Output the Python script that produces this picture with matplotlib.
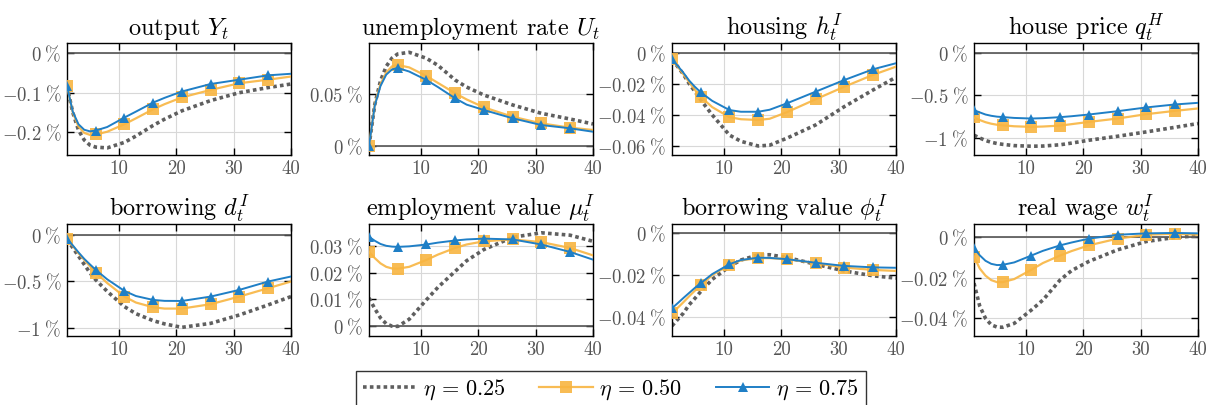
"""
Impulse responses for three values of eta, 2x4 panel grid with a shared
legend underneath (pgfplots-like look).
"""

import matplotlib
matplotlib.use("Agg")
import matplotlib.pyplot as plt

plt.rcParams["font.family"] = "serif"
plt.rcParams["font.serif"] = ["cmr10", "DejaVu Serif"]
plt.rcParams["mathtext.fontset"] = "cm"
plt.rcParams["axes.formatter.use_mathtext"] = True
plt.rcParams["axes.unicode_minus"] = False

t = [1, 2, 3, 4, 5, 6, 8, 11, 13, 16, 18, 21, 26, 31, 36, 40]
marker_idx = [0, 5, 7, 9, 11, 12, 13, 14]  # t = 1, 6, 11, ..., 36

eta_labels = [r"$\eta\,=\,0.25$", r"$\eta\,=\,0.50$", r"$\eta\,=\,0.75$"]

output_025 = [-0.083, -0.15, -0.195, -0.22, -0.233, -0.238, -0.240, -0.226, -0.210, -0.183, -0.167, -0.146, -0.120, -0.100, -0.087, -0.078]
output_050 = [-0.083, -0.15, -0.186, -0.202, -0.207, -0.206, -0.199, -0.180, -0.165, -0.142, -0.129, -0.112, -0.093, -0.076, -0.067, -0.059]
output_075 = [-0.083, -0.148, -0.180, -0.194, -0.198, -0.196, -0.187, -0.163, -0.148, -0.125, -0.113, -0.097, -0.078, -0.067, -0.056, -0.052]

unemp_025 = [0, 0.040, 0.063, 0.077, 0.085, 0.089, 0.0906, 0.0848, 0.078, 0.0638, 0.057, 0.0493, 0.0397, 0.0316, 0.0261, 0.0213]
unemp_050 = [0, 0.040, 0.060, 0.071, 0.077, 0.0783, 0.076, 0.0677, 0.061, 0.051, 0.045, 0.0374, 0.0283, 0.0219, 0.0177, 0.0155]
unemp_075 = [0, 0.039, 0.058, 0.069, 0.074, 0.0755, 0.072, 0.0638, 0.057, 0.0461, 0.040, 0.0348, 0.0268, 0.0203, 0.0171, 0.0138]

housing_025 = [-0.0043, -0.009, -0.014, -0.020, -0.025, -0.0304, -0.040, -0.053, -0.057, -0.0600, -0.0595, -0.055, -0.0465, -0.0347, -0.0240, -0.0158]
housing_050 = [-0.0043, -0.009, -0.014, -0.019, -0.024, -0.0284, -0.035, -0.0415, -0.0428, -0.0433, -0.0425, -0.0383, -0.0300, -0.0219, -0.0143, -0.0090]
housing_075 = [-0.0043, -0.0085, -0.013, -0.018, -0.022, -0.0255, -0.031, -0.0369, -0.0380, -0.0380, -0.0367, -0.0326, -0.0251, -0.0176, -0.0107, -0.0068]

hprice_025 = [-0.968, -1.00, -1.03, -1.05, -1.065, -1.075, -1.09, -1.097, -1.095, -1.08, -1.06, -1.027, -0.98, -0.929, -0.875, -0.831]
hprice_050 = [-0.760, -0.79, -0.815, -0.833, -0.845, -0.852, -0.863, -0.870, -0.866, -0.855, -0.838, -0.812, -0.772, -0.721, -0.682, -0.654]
hprice_075 = [-0.674, -0.70, -0.725, -0.740, -0.750, -0.755, -0.765, -0.772, -0.768, -0.756, -0.745, -0.725, -0.686, -0.642, -0.607, -0.588]

borrow_025 = [-0.05, -0.14, -0.23, -0.32, -0.41, -0.486, -0.61, -0.774, -0.85, -0.925, -0.96, -0.997, -0.954, -0.864, -0.756, -0.666]
borrow_050 = [-0.043, -0.12, -0.20, -0.27, -0.34, -0.407, -0.52, -0.666, -0.73, -0.781, -0.795, -0.795, -0.748, -0.666, -0.576, -0.504]
borrow_075 = [-0.043, -0.115, -0.19, -0.26, -0.32, -0.378, -0.48, -0.605, -0.66, -0.702, -0.712, -0.713, -0.666, -0.594, -0.504, -0.45]

empval_025 = [0.0105, 0.0065, 0.003, 0.0008, -0.0001, -0.0002, 0.0025, 0.0098, 0.0145, 0.0205, 0.0245, 0.0287, 0.0333, 0.0350, 0.0341, 0.0318]
empval_050 = [0.0278, 0.0255, 0.0235, 0.0222, 0.0216, 0.0215, 0.0222, 0.0248, 0.0268, 0.0293, 0.0306, 0.0318, 0.0325, 0.0315, 0.0293, 0.0265]
empval_075 = [0.0335, 0.0320, 0.0308, 0.0301, 0.0298, 0.0297, 0.0299, 0.0306, 0.0313, 0.0321, 0.0325, 0.0328, 0.0325, 0.0306, 0.0278, 0.0249]

borval_025 = [-0.0441, -0.041, -0.038, -0.034, -0.031, -0.0278, -0.022, -0.0159, -0.0128, -0.0104, -0.0103, -0.0116, -0.0148, -0.0180, -0.0203, -0.0214]
borval_050 = [-0.0381, -0.0355, -0.0328, -0.030, -0.0273, -0.0249, -0.020, -0.0151, -0.0130, -0.0119, -0.0119, -0.0124, -0.0143, -0.0164, -0.0175, -0.0180]
borval_075 = [-0.0357, -0.0333, -0.0308, -0.0284, -0.026, -0.0238, -0.0195, -0.0148, -0.0128, -0.0117, -0.0118, -0.0124, -0.0141, -0.0156, -0.0163, -0.0165]

wage_025 = [-0.0227, -0.034, -0.040, -0.0432, -0.0443, -0.0444, -0.0425, -0.0359, -0.031, -0.0211, -0.0165, -0.0120, -0.0063, -0.0022, -0.0002, 0.0006]
wage_050 = [-0.0096, -0.0155, -0.019, -0.0212, -0.0222, -0.0222, -0.0207, -0.0161, -0.0128, -0.0091, -0.0069, -0.0041, -0.0008, 0.0011, 0.0016, 0.0011]
wage_075 = [-0.0054, -0.009, -0.0117, -0.0132, -0.0138, -0.0137, -0.0125, -0.0091, -0.0068, -0.0041, -0.0027, -0.0008, 0.0011, 0.0018, 0.0020, 0.0018]

titles = [
    r"output $Y_t$", r"unemployment rate $U_t$", r"housing $h_t^I$", r"house price $q_t^H$",
    r"borrowing $d_t^I$", r"employment value $\mu_t^I$", r"borrowing value $\phi_t^I$", r"real wage $w_t^I$",
]
series = [
    (output_025, output_050, output_075),
    (unemp_025, unemp_050, unemp_075),
    (housing_025, housing_050, housing_075),
    (hprice_025, hprice_050, hprice_075),
    (borrow_025, borrow_050, borrow_075),
    (empval_025, empval_050, empval_075),
    (borval_025, borval_050, borval_075),
    (wage_025, wage_050, wage_075),
]
yticks = [
    [0, -0.1, -0.2], [0, 0.05], [0, -0.02, -0.04, -0.06], [0, -0.5, -1],
    [0, -0.5, -1], [0, 0.01, 0.02, 0.03], [0, -0.02, -0.04], [0, -0.02, -0.04],
]
ytick_labels = [
    ["0", "-0.1", "-0.2"], ["0", "0.05"], ["0", "-0.02", "-0.04", "-0.06"], ["0", "-0.5", "-1"],
    ["0", "-0.5", "-1"], ["0", "0.01", "0.02", "0.03"], ["0", "-0.02", "-0.04"], ["0", "-0.02", "-0.04"],
]
ylims = [
    (-0.258, 0.026), (-0.0087, 0.0996), (-0.0658, 0.0062), (-1.2, 0.114),
    (-1.09, 0.115), (-0.0038, 0.0383), (-0.0489, 0.0043), (-0.0487, 0.0064),
]

GRAY = "#5f5f5f"
ORANGE = "#f8b541"
BLUE = "#1f7fc6"

W, H = 1213, 405
fig = plt.figure(figsize=(W / 100, H / 100), dpi=100)

lefts = [67, 369, 672, 974]
tops = [43, 224]
aw, ah = 224, 112

handles = None
for k in range(8):
    r, c = divmod(k, 4)
    ax = fig.add_axes([lefts[c] / W, 1 - (tops[r] + ah) / H, aw / W, ah / H])
    s25, s50, s75 = series[k]

    ax.axhline(0, color="#555555", lw=1.2, zorder=1)
    l1, = ax.plot(t, s25, color=GRAY, lw=2.6, linestyle=(0, (1, 0.9)), zorder=2)
    l2, = ax.plot(t, s50, color=ORANGE, lw=1.6, marker="s", ms=8.5, markevery=marker_idx,
                  markeredgewidth=0, alpha=0.9, zorder=3)
    l3, = ax.plot(t, s75, color=BLUE, lw=1.4, marker="^", ms=7, markevery=marker_idx,
                  markeredgewidth=0, zorder=4)
    handles = [l1, l2, l3]

    ax.set_xlim(1, 40)
    ax.set_ylim(*ylims[k])
    ax.set_xticks([10, 20, 30, 40])
    ax.set_xticklabels(["10", "20", "30", "40"])
    ax.set_yticks(yticks[k])
    ax.set_yticklabels([r"$%s\;\%%$" % lab for lab in ytick_labels[k]])
    ax.grid(True, color="#d8d8d8", lw=0.8)
    ax.set_axisbelow(True)
    ax.tick_params(direction="in", top=True, right=True, length=5, width=1,
                   labelsize=13.5, labelcolor="#555555", pad=4)
    for sp in ax.spines.values():
        sp.set_linewidth(1.0)
    ax.set_title(titles[k], fontsize=17.5, pad=6)

fig.legend(handles, eta_labels, loc="upper center", bbox_to_anchor=(611 / W, 1 - 371 / H),
           borderaxespad=0, ncol=3, fontsize=16, frameon=True, fancybox=False,
           edgecolor="black", handlelength=2.4, handletextpad=0.3, columnspacing=1.5,
           borderpad=0.3)

fig.savefig("out.png", dpi=100)
